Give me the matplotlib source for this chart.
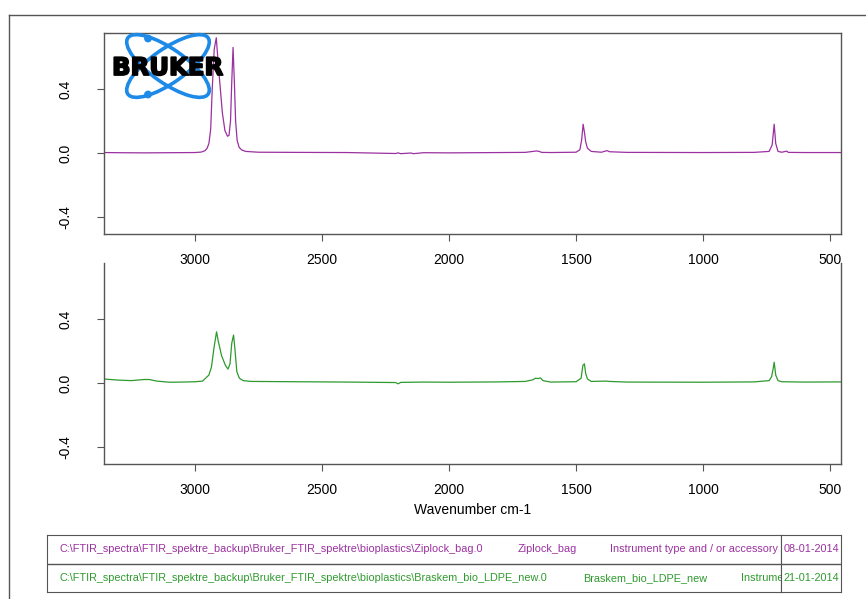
import matplotlib.pyplot as plt
import matplotlib.patheffects as pe
from matplotlib.patches import Ellipse, Circle
from matplotlib.lines import Line2D

plt.rcParams['font.family'] = ['Liberation Sans', 'DejaVu Sans']

# Ziplock bag spectrum (purple)
zip_wn = [3358, 3300, 3200, 3100, 3000, 2975, 2960, 2952, 2945, 2938, 2932, 2924, 2916, 2908,
          2900, 2892, 2882, 2872, 2866, 2860, 2855, 2850, 2845, 2840, 2834, 2826, 2815,
          2800, 2750, 2600, 2400, 2210, 2200, 2190, 2150, 2140, 2100, 2000, 1800, 1700, 1655,
          1645, 1635, 1600, 1500, 1485, 1478, 1472, 1466, 1462, 1455, 1440, 1400, 1378, 1368,
          1300, 1000, 800, 740, 728, 720, 714, 705, 690, 670, 665, 600, 457]
zip_abs = [0.003, 0.002, 0.001, 0.002, 0.003, 0.006, 0.015, 0.03, 0.06, 0.15, 0.40, 0.65, 0.72, 0.55,
           0.40, 0.25, 0.14, 0.105, 0.11, 0.20, 0.45, 0.66, 0.45, 0.20, 0.08, 0.035, 0.018,
           0.01, 0.005, 0.004, 0.003, -0.003, 0.001, -0.004, 0.0, -0.004, 0.002, 0.001, 0.003, 0.004, 0.013,
           0.01, 0.004, 0.003, 0.005, 0.02, 0.08, 0.18, 0.12, 0.07, 0.03, 0.01, 0.005, 0.015, 0.008,
           0.004, 0.003, 0.004, 0.01, 0.05, 0.18, 0.06, 0.01, 0.005, 0.012, 0.004, 0.003, 0.003]

# Braskem bio LDPE spectrum (green)
bras_wn = [3358, 3300, 3250, 3200, 3180, 3150, 3100, 3050, 3000, 2970, 2955, 2945, 2935,
           2925, 2915, 2908, 2895, 2880, 2870, 2862, 2855, 2848, 2842, 2835, 2825, 2810,
           2780, 2600, 2400, 2210, 2200, 2190, 2100, 2000, 1800, 1700, 1670, 1660, 1648,
           1640, 1630, 1600, 1500, 1480, 1473, 1467, 1462, 1455, 1440, 1380, 1370, 1300,
           1000, 800, 740, 730, 724, 720, 714, 705, 690, 600, 457]
bras_abs = [0.025, 0.018, 0.015, 0.022, 0.022, 0.012, 0.005, 0.006, 0.008, 0.012, 0.035, 0.05, 0.10,
            0.22, 0.32, 0.26, 0.17, 0.11, 0.087, 0.12, 0.25, 0.30, 0.20, 0.07, 0.03, 0.015,
            0.01, 0.008, 0.006, 0.003, -0.005, 0.004, 0.006, 0.005, 0.007, 0.01, 0.02, 0.03, 0.028,
            0.032, 0.015, 0.006, 0.008, 0.03, 0.11, 0.12, 0.06, 0.025, 0.01, 0.012, 0.01, 0.006,
            0.005, 0.007, 0.015, 0.04, 0.09, 0.13, 0.05, 0.015, 0.008, 0.006, 0.007]

x_ticks = [3000, 2500, 2000, 1500, 1000, 500]
y_ticks = [-0.4, 0.0, 0.4]

paths = [r"C:\FTIR_spectra\FTIR_spektre_backup\Bruker_FTIR_spektre\bioplastics\Ziplock_bag.0",
         r"C:\FTIR_spectra\FTIR_spektre_backup\Bruker_FTIR_spektre\bioplastics\Braskem_bio_LDPE_new.0"]
names = ["Ziplock_bag", "Braskem_bio_LDPE_new"]
instrument = "Instrument type and / or accessory"
dates = ["08-01-2014", "21-01-2014"]

purple = '#9b30a0'
green = '#2e9a2e'
edge = '#555555'

W, H = 866, 599
fig = plt.figure(figsize=(W / 100, H / 100), dpi=100)


def fbox(x0, y0, x1, y1):
    # pixel box (top-left origin) -> figure fraction rect
    return [x0 / W, 1 - y1 / H, (x1 - x0) / W, (y1 - y0) / H]


def style_axes(ax, top_spine):
    ax.set_xlim(3358, 457)
    ax.set_ylim(-0.506, 0.75)
    ax.set_xticks(x_ticks)
    ax.set_yticks(y_ticks)
    ax.set_yticklabels(['-0.4', '0.0', '0.4'], rotation=90, va='center')
    ax.patch.set_alpha(0)
    for s in ax.spines.values():
        s.set_color(edge)
        s.set_linewidth(1.0)
    ax.spines['top'].set_visible(top_spine)
    ax.tick_params(axis='x', direction='out', length=5, color=edge, labelsize=10, pad=9)
    ax.tick_params(axis='y', direction='out', length=5, color=edge, labelsize=10, pad=18)


ax2 = fig.add_axes(fbox(104, 263, 841, 464))
ax2.plot(bras_wn, bras_abs, color=green, lw=0.9)
style_axes(ax2, False)
ax2.set_xlabel("Wavenumber cm-1", fontsize=10, labelpad=4)

ax1 = fig.add_axes(fbox(104, 33, 841, 234))
ax1.plot(zip_wn, zip_abs, color=purple, lw=0.9)
style_axes(ax1, True)

# outer frame
fig.add_artist(Line2D([9 / W, 9 / W], [0, 1 - 15 / H], color=edge, lw=1.0))
fig.add_artist(Line2D([9 / W, 1], [1 - 15 / H, 1 - 15 / H], color=edge, lw=1.0))

# Bruker logo
logo = fig.add_axes(fbox(100, 30, 235, 105))
logo.set_xlim(100, 235)
logo.set_ylim(105, 30)
logo.axis('off')
blue = '#1e8ae8'
for ang in (35, -35):
    logo.add_patch(Ellipse((168, 66), 98, 34, angle=ang, fill=False, ec=blue, lw=2.6))
logo.add_patch(Circle((148, 38.5), 3.2, color=blue))
logo.add_patch(Circle((148, 94.5), 3.2, color=blue))
logo.text(167.5, 68, "BRUKER", ha='center', va='center', fontsize=17.5, fontweight='heavy',
          family='DejaVu Sans', color='black',
          path_effects=[pe.withStroke(linewidth=1.3, foreground='black')])

# info table
row_colors = [purple, green]
tab = fig.add_axes(fbox(47, 535, 781, 592))
tab.set_xlim(47, 781)
tab.set_ylim(592, 535)
tab.set_xticks([])
tab.set_yticks([])
for s in tab.spines.values():
    s.set_color(edge)
tab.axhline(563.5, color=edge, lw=1.0)
row_y = [549, 578]
name_x = [518, 583]
inst_x = [610, 741]
fs = 7.8
for i in range(2):
    tab.text(60, row_y[i], paths[i], color=row_colors[i], fontsize=fs, va='center', clip_on=True)
    tab.text(name_x[i], row_y[i], names[i], color=row_colors[i], fontsize=fs, va='center', clip_on=True)
    tab.text(inst_x[i], row_y[i], instrument, color=row_colors[i], fontsize=fs, va='center', clip_on=True)

dtab = fig.add_axes(fbox(781, 535, 841, 592))
dtab.set_xlim(781, 841)
dtab.set_ylim(592, 535)
dtab.set_xticks([])
dtab.set_yticks([])
for s in dtab.spines.values():
    s.set_color(edge)
dtab.axhline(563.5, color=edge, lw=1.0)
for i in range(2):
    dtab.text(811.5, row_y[i], dates[i], color=row_colors[i], fontsize=fs, va='center', ha='center')

fig.savefig("out.png", dpi=100)
